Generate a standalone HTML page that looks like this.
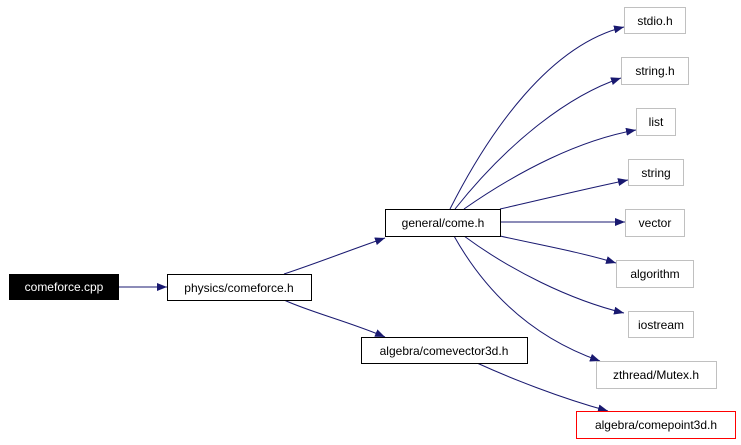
<!DOCTYPE html>
<html><head><meta charset="utf-8"><style>
html,body{margin:0;padding:0;background:#fff;}
svg{display:block;}
text{font-family:"Liberation Sans",sans-serif;font-size:12px;text-anchor:middle;}
</style></head><body>
<svg width="741" height="445" viewBox="0 0 741 445" xmlns="http://www.w3.org/2000/svg">
<defs>
<marker id="a" markerWidth="10" markerHeight="8" refX="10" refY="4" orient="auto" markerUnits="userSpaceOnUse">
<path d="M0,0 L10,4 L0,8 Z" fill="#191970"/>
</marker>
</defs>
<g fill="none" stroke="#191970" stroke-width="1" marker-end="url(#a)">
<path d="M118,287 L167,287"/>
<path d="M284,274 C320,262 350,250 385,238"/>
<path d="M284,300 C310,312 350,322 385,337"/>
<path d="M477,363 C510,378 560,398 608,411"/>
<path d="M450,209 C490,130 550,45 624,27"/>
<path d="M455,209 C510,140 570,95 621,78"/>
<path d="M464,209 C520,170 580,140 636,130"/>
<path d="M500,209 C540,200 580,190 628,180"/>
<path d="M500,222 L625,222"/>
<path d="M500,236 C540,245 580,252 616,263"/>
<path d="M464,236 C510,270 570,300 624,313"/>
<path d="M454,236 C490,300 540,340 600,361"/>
</g>
<rect x="9.5" y="274.5" width="109" height="25" fill="#000" stroke="#000"/>
<text x="64" y="291" fill="#fff">comeforce.cpp</text>
<rect x="167.5" y="274.5" width="144" height="26" fill="#fff" stroke="#000"/>
<text x="239" y="292">physics/comeforce.h</text>
<rect x="385.5" y="209.5" width="115" height="27" fill="#fff" stroke="#000"/>
<text x="443" y="227">general/come.h</text>
<rect x="361.5" y="337.5" width="166" height="26" fill="#fff" stroke="#000"/>
<text x="444" y="355">algebra/comevector3d.h</text>
<g fill="#fff" stroke="#c0c0c0">
<rect x="624.5" y="7.5" width="61" height="26"/>
<rect x="621.5" y="57.5" width="67" height="27"/>
<rect x="636.5" y="108.5" width="39" height="27"/>
<rect x="628.5" y="159.5" width="55" height="26"/>
<rect x="625.5" y="209.5" width="59" height="27"/>
<rect x="616.5" y="260.5" width="77" height="27"/>
<rect x="628.5" y="311.5" width="65" height="26"/>
<rect x="596.5" y="361.5" width="120" height="27"/>
</g>
<rect x="576.5" y="411.5" width="159" height="27" fill="#fff" stroke="#f00"/>
<text x="655" y="25">stdio.h</text>
<text x="655" y="75">string.h</text>
<text x="656" y="126">list</text>
<text x="656" y="177">string</text>
<text x="655" y="227">vector</text>
<text x="655" y="278">algorithm</text>
<text x="661" y="329">iostream</text>
<text x="656" y="379">zthread/Mutex.h</text>
<text x="656" y="429">algebra/comepoint3d.h</text>
</svg>
</body></html>
